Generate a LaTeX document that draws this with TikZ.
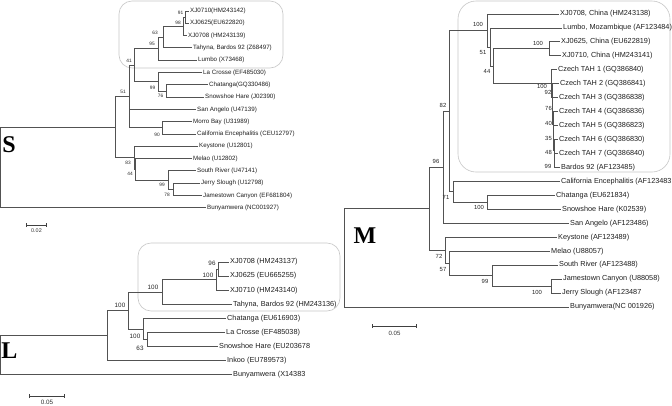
\documentclass[tikz,border=0pt]{standalone}
\usepackage{fontspec}
\setmainfont{Liberation Sans}
\newfontfamily\letterfont{Liberation Serif}
\usetikzlibrary{arrows.meta}
\tikzset{
  br/.style={draw=black!68, line width=0.85pt},
  clade/.style={draw=black!22, line width=0.6pt},
  sleaf/.style={anchor=west, inner sep=1pt, text=black!88, font=\fontsize{6.2}{7}\selectfont},
  lleaf/.style={anchor=west, inner sep=1pt, text=black!88, font=\fontsize{7.3}{8}\selectfont},
  sboot/.style={inner sep=0pt, text=black!85, font=\fontsize{4.8}{5}\selectfont},
  lboot/.style={inner sep=0pt, text=black!85, font=\fontsize{6.3}{7}\selectfont},
  mboot/.style={inner sep=0pt, text=black!85, font=\fontsize{5.9}{6}\selectfont},
  bigletter/.style={inner sep=0pt, text=black, font=\letterfont\bfseries\fontsize{24}{24}\selectfont},
  scalebar/.style={draw=black!75, line width=0.7pt, {Bar[width=4pt]}-{Bar[width=4pt]}},
  scalelab/.style={inner sep=0pt, text=black!80, font=\fontsize{5.4}{6}\selectfont}
}
\begin{document}
\begin{tikzpicture}[x=1pt,y=-1pt]
\useasboundingbox (0,0) rectangle (672,405);
\fill[white] (0,0) rectangle (672,405);

% ---------------- clade boxes ----------------
\draw[clade, rounded corners=13pt] (119,1) rectangle (283,68);
\draw[clade, rounded corners=13pt] (138,243) rectangle (340,311);
\draw[clade, rounded corners=18pt] (458,1) rectangle (670,172);

% ================= S tree =================
\node[sleaf] (s1)  at (189,11.0)  {XJ0710(HM243142)};
\node[sleaf] (s2)  at (189,23.3)  {XJ0625(EU622820)};
\node[sleaf] (s3)  at (187,35.6)  {XJ0708 (HM243139)};
\node[sleaf] (s4)  at (192,47.9)  {Tahyna, Bardos 92 (Z68497)};
\node[sleaf] (s5)  at (197,60.2)  {Lumbo (X73468)};
\node[sleaf] (s6)  at (202,72.5)  {La Crosse (EF485030)};
\node[sleaf] (s7)  at (208,84.8)  {Chatanga(GQ330486)};
\node[sleaf] (s8)  at (204,97.1)  {Snowshoe Hare (J02390)};
\node[sleaf] (s9)  at (196,109.4) {San Angelo (U47139)};
\node[sleaf] (s10) at (192,121.7) {Morro Bay (U31989)};
\node[sleaf] (s11) at (196,134.0) {California Encephalitis (CEU12797)};
\node[sleaf] (s12) at (198,146.3) {Keystone (U12801)};
\node[sleaf] (s13) at (192,158.6) {Melao (U12802)};
\node[sleaf] (s14) at (196,170.9) {South River (U47141)};
\node[sleaf] (s15) at (200,183.2) {Jerry Slough (U12798)};
\node[sleaf] (s16) at (202,195.5) {Jamestown Canyon (EF681804)};
\node[sleaf] (s17) at (206,207.8) {Bunyamwera (NC001927)};

\coordinate (sn91)  at (185,17.15);
\coordinate (sn98)  at (183,26.4);
\coordinate (sn63)  at (163,37.15);
\coordinate (sn95)  at (158,48.7);
\coordinate (sn76)  at (166,90.95);
\coordinate (sn99)  at (158,81.7);
\coordinate (sn41)  at (134,65.2);
\coordinate (sn90)  at (162,127.85);
\coordinate (sn51)  at (129,96.5);
\coordinate (sn78)  at (173,189.35);
\coordinate (sn99b) at (168,180.1);
\coordinate (sn44)  at (135.5,169.4);
\coordinate (sn83)  at (134,157.8);
\coordinate (sin)   at (115,127.2);
\coordinate (sroot) at (0.5,167.5);

\foreach \p/\c in {sn91/s1, sn91/s2, sn98/sn91, sn98/s3, sn63/sn98, sn63/s4,
  sn95/sn63, sn95/s5, sn76/s7, sn76/s8, sn99/s6, sn99/sn76, sn41/sn95, sn41/sn99,
  sn90/s10, sn90/s11, sn51/sn41, sn51/s9, sn51/sn90, sn78/s15, sn78/s16,
  sn99b/s14, sn99b/sn78, sn44/s13, sn44/sn99b, sn83/s12, sn83/sn44,
  sin/sn51, sin/sn83, sroot/sin, sroot/s17}
  \draw[br] (\p) |- (\c);

\node[sboot] (bs91) at (180.5,12.5) {91};
\node[sboot] (bs98) at (178,22.5) {98};
\node[sboot] (bs63) at (155,32.5) {63};
\node[sboot] (bs95) at (152,44) {95};
\node[sboot] (bs41) at (129,61) {41};
\node[sboot] (bs99) at (152.5,88) {99};
\node[sboot] (bs76) at (160.5,95.5) {76};
\node[sboot] (bs51) at (123,92) {51};
\node[sboot] (bs90) at (157,134.5) {90};
\node[sboot] (bs83) at (128,163) {83};
\node[sboot] (bs44) at (130,174) {44};
\node[sboot] (bs99b) at (162,185) {99};
\node[sboot] (bs78) at (167,195) {78};

\node[bigletter] (lS) at (9,145) {S};
\coordinate (ssa) at (26,225);
\coordinate (ssb) at (47,225);
\draw[scalebar] (ssa) -- (ssb);
\node[scalelab] (ssl) at (36.5,231) {0.02};

% ================= L tree =================
\node[lleaf] (l1) at (229,262.0) {XJ0708 (HM243137)};
\node[lleaf] (l2) at (229,276.1) {XJ0625 (EU665255)};
\node[lleaf] (l3) at (229,290.2) {XJ0710 (HM243140)};
\node[lleaf] (l4) at (232,304.3) {Tahyna, Bardos 92 (HM243136)};
\node[lleaf] (l5) at (226,318.4) {Chatanga (EU616903)};
\node[lleaf] (l6) at (225,332.5) {La Crosse (EF485038)};
\node[lleaf] (l7) at (218,346.6) {Snowshoe Hare (EU203678};
\node[lleaf] (l8) at (226,360.7) {Inkoo (EU789573)};
\node[lleaf] (l9) at (232,374.8) {Bunyamwera (X14383};

\coordinate (ln96)   at (218,269.05);
\coordinate (ln100a) at (216,279.6);
\coordinate (ln100b) at (162,291.95);
\coordinate (ln63)   at (147,339.55);
\coordinate (ln100c) at (143,328.95);
\coordinate (ln100d) at (128,310.45);
\coordinate (lin)    at (107,335.6);
\coordinate (lroot)  at (0.5,355);

\foreach \p/\c in {ln96/l1, ln96/l2, ln100a/ln96, ln100a/l3, ln100b/ln100a, ln100b/l4,
  ln63/l6, ln63/l7, ln100c/l5, ln100c/ln63, ln100d/ln100b, ln100d/ln100c,
  lin/ln100d, lin/l8, lroot/lin, lroot/l9}
  \draw[br] (\p) |- (\c);

\node[lboot] (bl96)   at (212,263.5) {96};
\node[lboot] (bl100a) at (208,275.5) {100};
\node[lboot] (bl100b) at (153,287) {100};
\node[lboot] (bl100d) at (120,305) {100};
\node[lboot] (bl100c) at (135,336) {100};
\node[lboot] (bl63)   at (140,348) {63};

\node[bigletter] (lL) at (9.5,351) {L};
\coordinate (lsa) at (29,396);
\coordinate (lsb) at (65,396);
\draw[scalebar] (lsa) -- (lsb);
\node[scalelab, font=\fontsize{6.3}{7}\selectfont] (lsl) at (47,402) {0.05};

% ================= M tree =================
\node[lleaf] (m1)  at (559,14.0)   {XJ0708, China (HM243138)};
\node[lleaf] (m2)  at (562,27.95)  {Lumbo, Mozambique (AF123484)};
\node[lleaf] (m3)  at (560,41.9)   {XJ0625, China (EU622819)};
\node[lleaf] (m4)  at (561,55.85)  {XJ0710, China (HM243141)};
\node[lleaf] (m5)  at (557,69.8)   {Czech TAH 1 (GQ386840)};
\node[lleaf] (m6)  at (559,83.75)  {Czech TAH 2 (GQ386841)};
\node[lleaf] (m7)  at (558,97.7)   {Czech TAH 3 (GQ386838)};
\node[lleaf] (m8)  at (558,111.65) {Czech TAH 4 (GQ386836)};
\node[lleaf] (m9)  at (558,125.6)  {Czech TAH 5 (GQ386823)};
\node[lleaf] (m10) at (558,139.55) {Czech TAH 6 (GQ386830)};
\node[lleaf] (m11) at (558,153.5)  {Czech TAH 7 (GQ386840)};
\node[lleaf] (m12) at (560,167.45) {Bardos 92 (AF123485)};
\node[lleaf] (m13) at (560,181.4)  {California Encephalitis (AF123483};
\node[lleaf] (m14) at (555,195.35) {Chatanga (EU621834)};
\node[lleaf] (m15) at (561,209.3)  {Snowshoe Hare (K02539)};
\node[lleaf] (m16) at (569,223.25) {San Angelo (AF123486)};
\node[lleaf] (m17) at (557,237.2)  {Keystone (AF123489)};
\node[lleaf] (m18) at (550,251.15) {Melao (U88057)};
\node[lleaf] (m19) at (558,265.1)  {South River (AF123488)};
\node[lleaf] (m20) at (562,279.05) {Jamestown Canyon (U88058)};
\node[lleaf] (m21) at (561,293.0)  {Jerry Slough (AF123487};
\node[lleaf] (m22) at (569,306.95) {Bunyamwera(NC 001926)};

\coordinate (mn100cc)  at (549,48.875);
\coordinate (c7) at (554.5,160.475);
\coordinate (c6) at (554,150.01);
\coordinate (c5) at (553.5,137.8);
\coordinate (c4) at (553,124.73);
\coordinate (c3) at (552.5,111.21);
\coordinate (c2) at (552,97.48);
\coordinate (c1) at (551.5,83.64);
\coordinate (mn44)     at (493,66.26);
\coordinate (mn51)     at (490,47.1);
\coordinate (mn100top) at (487,30.55);
\coordinate (mn100ch)  at (487,202.3);
\coordinate (mn71)     at (453,191.9);
\coordinate (mn82)     at (449,111.2);
\coordinate (mn96)     at (443,167.2);
\coordinate (mn100js)  at (551,286);
\coordinate (mn99)     at (492,275.6);
\coordinate (mn57)     at (449,263.4);
\coordinate (mn72)     at (445,250.3);
\coordinate (min)      at (429,208.75);
\coordinate (mroot)    at (344,260);

\foreach \p/\c in {mn100cc/m3, mn100cc/m4,
  c7/m11, c7/m12, c6/m10, c6/c7, c5/m9, c5/c6, c4/m8, c4/c5, c3/m7, c3/c4,
  c2/m6, c2/c3, c1/m5, c1/c2,
  mn44/mn100cc, mn44/c1, mn51/m2, mn51/mn44, mn100top/m1, mn100top/mn51,
  mn100ch/m14, mn100ch/m15, mn71/m13, mn71/mn100ch, mn82/mn100top, mn82/mn71,
  mn96/mn82, mn96/m16, mn100js/m20, mn100js/m21, mn99/m19, mn99/mn100js,
  mn57/m18, mn57/mn99, mn72/m17, mn72/mn57, min/mn96, min/mn72,
  mroot/min, mroot/m22}
  \draw[br] (\p) |- (\c);

\node[mboot] (bm100top) at (478,24.3) {100};
\node[mboot] (bm51)     at (483,52.3) {51};
\node[mboot] (bm44)     at (487,71) {44};
\node[mboot] (bm100cc)  at (538,43) {100};
\node[mboot] (bmc1) at (542,86.5) {100};
\node[mboot] (bmc2) at (548,92.5) {92};
\node[mboot] (bmc3) at (548.5,108.5) {76};
\node[mboot] (bmc4) at (548.5,123.5) {40};
\node[mboot] (bmc5) at (548.5,138) {35};
\node[mboot] (bmc6) at (548.5,152) {48};
\node[mboot] (bmc7) at (548,166.5) {99};
\node[mboot] (bm82)     at (443,105.7) {82};
\node[mboot] (bm96)     at (436,161.7) {96};
\node[mboot] (bm71)     at (446,197.3) {71};
\node[mboot] (bm100ch)  at (479,207.7) {100};
\node[mboot] (bm72)     at (439,256) {72};
\node[mboot] (bm57)     at (443,269) {57};
\node[mboot] (bm99)     at (485,281) {99};
\node[mboot] (bm100js)  at (537,292) {100};

\node[bigletter] (lM) at (365,236) {M};
\coordinate (msa) at (372,326);
\coordinate (msb) at (417,326);
\draw[scalebar] (msa) -- (msb);
\node[scalelab, font=\fontsize{6.1}{7}\selectfont] (msl) at (394.5,333) {0.05};
\end{tikzpicture}
\end{document}
